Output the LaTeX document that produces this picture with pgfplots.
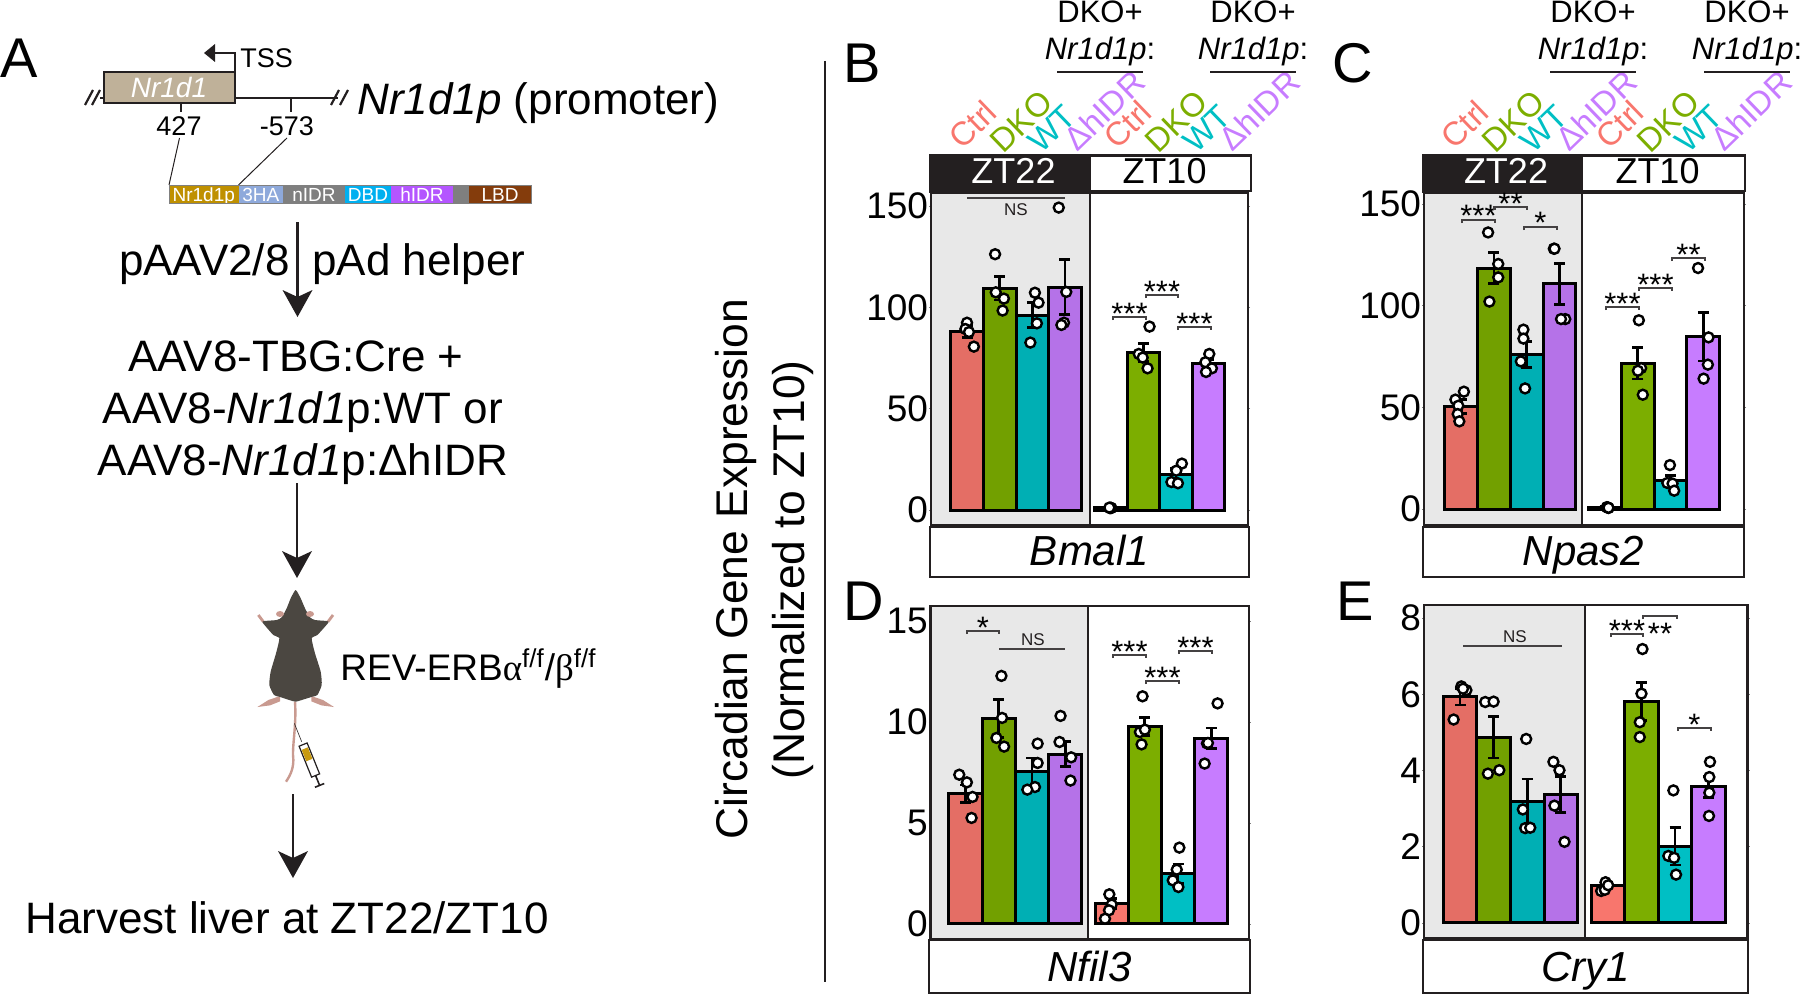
\documentclass[border=0pt]{standalone}
\usepackage{fontspec}
\setmainfont{Liberation Sans}
\newfontfamily\greekfont{Liberation Serif}
\usepackage{pgfplots}
\pgfplotsset{compat=1.18}

% ggplot colours; the ZT22 side sits under a grey wash
\definecolor{ink}{HTML}{231F20}
\definecolor{cCtrl}{HTML}{F8766D}
\definecolor{cDKO}{HTML}{7CAE00}
\definecolor{cWT}{HTML}{00BFC4}
\definecolor{cIDR}{HTML}{C77CFF}
\definecolor{dCtrl}{HTML}{E46E65}
\definecolor{dDKO}{HTML}{72A000}
\definecolor{dWT}{HTML}{00AFB4}
\definecolor{dIDR}{HTML}{B572E8}
\definecolor{wash}{HTML}{E8E8E8}
\definecolor{fur}{HTML}{4B4741}
\definecolor{skin}{HTML}{C99A90}
\definecolor{tan}{HTML}{BFB199}

% 1 px of the reference = 0.5pt, sizes below are px/2
\newcommand{\fsz}[1]{\fontsize{#1}{#1}\selectfont}

\pgfplotsset{panel/.style={
    scale only axis,
    axis on top,
    axis line style={line width=1.4pt,ink},
    xtick=\empty,
    tick align=outside,
    major tick length=1pt,
    tick style={line width=0.3pt,gray},
    tick label style={font=\fsz{18.5}},
    /pgf/number format/assume math mode=true,
    yticklabel style={inner sep=0pt,xshift=-0.3pt},
    clip=true,
}}

\newcommand{\onebar}[4]{\addplot[ybar,bar width=1,bar shift=0pt,fill=#1,draw=black,line width=1.5pt,
    error bars/.cd,y dir=both,y explicit,
    error bar style={line width=1.4pt,black},
    error mark options={rotate=90,mark size=2.75pt,line width=1.4pt,black}]
    coordinates {(#2,#3) +- (0,#4)};}
\newcommand{\washzone}[4]{\addplot[draw=none,fill=wash] coordinates {(#1,#3)(#2,#3)(#2,#4)(#1,#4)} --cycle;
    \addplot[line width=1.4pt,ink] coordinates {(#2,#3)(#2,#4)};}
\tikzset{dots/.style={only marks,mark=*,mark size=2.5pt,mark options={fill=white,draw=black,line width=1.2pt}}}

\newcommand{\bracket}[3]{\draw[line width=0.7pt,ink!85] (#1,#3+3)--(#1,#3)--(#2,#3)--(#2,#3+3);}
\newcommand{\sig}[4]{\bracket{#1}{#2}{#3}\node[anchor=base,inner sep=0pt,font=\fsz{15.5}] at ({(#1+#2)/2},#3+7) {#4};}
\newcommand{\nsline}[5]{\draw[line width=0.7pt,ink!85] (#1,#3)--(#2,#3);\node[inner sep=0pt,font=\fsz{8.5},ink] at (#4,#5) {NS};}
\newcommand{\darrow}[3]{\draw[line width=1.4pt,ink] (#1,#2)--(#1,#3-15);
    \fill[ink] (#1-15,#3-27)--(#1,#3-20)--(#1+15,#3-27)--(#1,#3)--cycle;}

% header over one facet column: x left, x divider, x right
\newcommand{\header}[3]{%
    \fill[ink] (#1,154) rectangle (#2,193);
    \draw[line width=1.4pt,ink,fill=white] (#2,155.5) rectangle (#3,191);
    \node[white,font=\fsz{18},anchor=base,inner sep=0pt] at ({(#1+#2)/2+4},184) {ZT22};
    \node[black,font=\fsz{18},anchor=base,inner sep=0pt] at ({(#2+#3)/2-6},184) {ZT10};}
\newcommand{\dko}[1]{%
    \node[font=\fsz{15.5},anchor=base] at (#1,23) {DKO+};
    \node[font=\fsz{15.5},anchor=base] at (#1,60) {\textit{Nr1d1p}:};
    \draw[line width=1.2pt,ink] (#1-43,72)--(#1+43,72);}
\newcommand{\rotlabels}[1]{%
    \begin{scope}[shift={(#1,0)}]
    \node[rotate=44,anchor=base west,inner sep=0pt,font=\fsz{16.5},cCtrl] at (0,151) {Ctrl};
    \node[rotate=44,anchor=base west,inner sep=0pt,font=\fsz{16.5},cDKO] at (41,155) {DKO};
    \node[rotate=44,anchor=base west,inner sep=0pt,font=\fsz{16.5},cWT] at (79,155) {WT};
    \node[rotate=44,anchor=base west,inner sep=0pt,font=\fsz{16.5},cIDR] at (115,153) {ΔhIDR};
    \end{scope}}
\newcommand{\strip}[5]{%
    \draw[line width=1.4pt,ink,fill=white] (#1,#3) rectangle (#2,#4);
    \node[font=\fsz{21},anchor=base,inner sep=0pt] at ({(#1+#2)/2},#4-11.5) {\textit{#5}};}

\begin{document}
\begin{tikzpicture}[x=0.5pt,y=-0.5pt]
\path[use as bounding box] (0,0) rectangle (1800,995);

%%% panel B
\begin{axis}[panel,at={(465.5pt,-262.5pt)},anchor=south west,width=158.5pt,height=166pt,
    xmin=-0.103,xmax=9.606,ymin=-7.4,ymax=156.4,ytick={0,50,100,150}]
\washzone{-0.103}{4.767}{-7.4}{156.4}
\onebar{dCtrl}{1}{88}{3}
\onebar{dDKO}{2}{109.4}{5.8}
\onebar{dWT}{3}{96.2}{6}
\onebar{dIDR}{4}{110}{13.5}
\onebar{cCtrl}{5.4}{1}{0.3}
\onebar{cDKO}{6.4}{77.8}{4.4}
\onebar{cWT}{7.4}{17.4}{3}
\onebar{cIDR}{8.4}{72.2}{2}
\addplot[dots] coordinates {(1.0,92.4)(0.95,89.3)(1.06,87.8)(1.21,80.6)
    (1.86,126.2)(1.88,107.4)(2.13,104.3)(2.09,98.4)
    (3.08,107.2)(3.19,102.3)(3.14,92.1)(2.94,82.6)
    (3.81,149.2)(4.04,107.6)(3.97,92.4)(3.89,91.3)
    (5.4,1.1)(5.38,0.9)(5.42,1.0)(5.36,1.2)
    (6.59,90.5)(6.26,77)(6.38,75.2)(6.53,69.9)
    (7.58,22.9)(7.41,19.4)(7.26,13.8)(7.46,13.2)
    (8.42,77)(8.3,72.9)(8.5,69.9)(8.32,68.1)};
\end{axis}

%%% panel C
\begin{axis}[panel,at={(712pt,-262.5pt)},anchor=south west,width=160pt,height=166pt,
    xmin=-0.14,xmax=9.645,ymin=-7.87,ymax=155.4,ytick={0,50,100,150}]
\washzone{-0.14}{4.69}{-7.87}{155.4}
\onebar{dCtrl}{1}{50.5}{3.5}
\onebar{dDKO}{2}{118.4}{7.6}
\onebar{dWT}{3}{76}{6.4}
\onebar{dIDR}{4}{110.7}{10.1}
\onebar{cCtrl}{5.4}{0.8}{0.3}
\onebar{cDKO}{6.4}{71.6}{7.7}
\onebar{cWT}{7.4}{13.8}{2.8}
\onebar{cIDR}{8.4}{84.8}{12}
\addplot[dots] coordinates {(1.08,57.7)(0.82,53.8)(0.91,50.8)(0.89,46.7)(0.94,43.1)
    (1.82,136)(2.13,120.5)(2.13,113.9)(1.86,102)
    (2.9,88.2)(2.9,83.8)(2.82,72.6)(2.95,59.3)
    (3.83,128)(3.85,128)(4.18,93.4)(4.05,93.4)
    (5.45,0.9)(5.5,0.5)(5.47,0.8)(5.5,0.6)
    (6.43,92.8)(6.5,69.3)(6.4,68)(6.55,56.2)
    (7.38,21.6)(7.3,12.8)(7.46,12.5)(7.51,9)
    (8.24,118.5)(8.56,84.4)(8.54,71)(8.41,64.1)};
\end{axis}

%%% panel D
\begin{axis}[panel,at={(465.35pt,-469.5pt)},anchor=south west,width=159.15pt,height=166.5pt,
    xmin=-0.05,xmax=9.536,ymin=-0.743,ymax=15.74,ytick={0,5,10,15}]
\washzone{-0.05}{4.687}{-0.743}{15.74}
\onebar{dCtrl}{1}{6.45}{0.43}
\onebar{dDKO}{2}{10.16}{0.94}
\onebar{dWT}{3}{7.54}{0.68}
\onebar{dIDR}{4}{8.4}{0.62}
\onebar{cCtrl}{5.4}{1}{0.25}
\onebar{cDKO}{6.4}{9.79}{0.45}
\onebar{cWT}{7.4}{2.49}{0.48}
\onebar{cIDR}{8.4}{9.19}{0.51}
\addplot[dots] coordinates {(0.81,7.39)(1.04,7.01)(1.21,6.29)(1.18,5.25)
    (2.08,12.28)(2.1,10.2)(1.93,9.21)(2.16,8.78)
    (3.17,8.93)(3.17,7.97)(3.09,6.78)(2.86,6.65)
    (3.86,10.3)(3.83,9.01)(4.18,8.25)(4.16,7.1)
    (5.33,1.47)(5.4,0.96)(5.32,0.68)(5.2,0.26)
    (6.33,11.27)(6.25,9.5)(6.4,9.62)(6.3,8.89)
    (7.44,3.78)(7.36,2.69)(7.24,2.16)(7.41,1.83)
    (8.59,10.92)(8.27,8.94)(8.3,8.96)(8.2,7.94)};
\end{axis}

%%% panel E
\begin{axis}[panel,at={(712pt,-469pt)},anchor=south west,width=161.85pt,height=166.5pt,
    xmin=-0.071,xmax=9.562,ymin=-0.394,ymax=8.346,ytick={0,2,4,6,8}]
\washzone{-0.071}{4.72}{-0.394}{8.346}
\onebar{dCtrl}{1}{5.94}{0.22}
\onebar{dDKO}{2}{4.87}{0.54}
\onebar{dWT}{3}{3.18}{0.6}
\onebar{dIDR}{4}{3.38}{0.47}
\onebar{cCtrl}{5.4}{0.99}{0.05}
\onebar{cDKO}{6.4}{5.82}{0.5}
\onebar{cWT}{7.4}{2.01}{0.49}
\onebar{cIDR}{8.4}{3.57}{0.27}
\addplot[dots] coordinates {(1.04,6.21)(1.19,6.11)(1.09,6.15)(0.81,5.34)
    (1.75,5.8)(2.0,5.81)(2.17,4.01)(1.83,3.92)
    (2.97,4.83)(2.87,2.98)(2.94,2.49)(3.09,2.5)
    (3.78,4.23)(3.96,4.01)(3.81,3.08)(4.11,2.13)
    (5.2,0.84)(5.31,0.87)(5.33,1.07)(5.41,0.99)
    (6.43,7.19)(6.4,6.02)(6.35,5.27)(6.35,4.88)
    (7.35,3.48)(7.2,1.76)(7.37,1.71)(7.43,1.27)
    (8.44,4.23)(8.42,3.83)(8.42,3.42)(8.41,2.81)};
\end{axis}

%%% strips and headings of the facets
\header{929}{1090}{1251}
\header{1422}{1582}{1745}
\strip{930}{1249}{527}{577}{Bmal1}
\strip{1423}{1744}{527}{577}{Npas2}
\strip{929}{1250}{940}{993}{Nfil3}
\strip{1423}{1748}{940}{993}{Cry1}
\rotlabels{962}
\rotlabels{1117}
\rotlabels{1454}
\rotlabels{1609}
\dko{1100}
\dko{1253}
\dko{1593}
\dko{1747}

%%% significance marks
\nsline{967}{1065}{198}{1016}{210}
\sig{1113}{1146}{317}{***}
\sig{1146}{1178}{295}{***}
\sig{1178}{1211}{327}{***}

\sig{1462}{1495}{220}{***}
\sig{1494}{1527}{207}{**}
\sig{1524}{1557}{227}{*}
\sig{1606}{1639}{307}{***}
\sig{1639}{1672}{288}{***}
\sig{1672}{1705}{258}{**}

\sig{967}{999}{631}{*}
\nsline{999}{1065}{649}{1033}{640}
\sig{1113}{1146}{655}{***}
\sig{1146}{1179}{681}{***}
\sig{1179}{1212}{651}{***}

\nsline{1463}{1562}{646}{1515}{637}
\sig{1611}{1643}{634}{***}
\bracket{1643}{1677}{616}
\node[anchor=base,inner sep=0pt,font=\fsz{15.5}] at (1660,644) {**};
\sig{1678}{1711}{728}{*}

%%% divider and shared label
\draw[line width=1.2pt,ink] (825,61)--(825,982);
\node[rotate=90,font=\fsz{22.2},anchor=base] at (747,569) {Circadian Gene Expression};
\node[rotate=90,font=\fsz{22.2},anchor=base] at (804,570) {(Normalized to ZT10)};

%%% panel letters
\foreach \l/\px/\py in {A/0/78,B/843/83,C/1332/83,D/843/620,E/1336/620}
    \node[anchor=base west,inner sep=0pt,font=\fsz{28}] at (\px,\py) {\l};

%%% panel A: construct
\draw[line width=1.4pt,ink] (100,98)--(338,98);
\draw[line width=1.1pt,ink] (85,105)--(93,90) (92,105)--(100,90) (331,105)--(339,90) (340,105)--(348,90);
\draw[line width=1.4pt,ink,fill=tan] (104,72) rectangle (235,103);
\node[white,font=\fsz{14}] at (169,88) {\textit{Nr1d1}};
\draw[line width=1.3pt,ink] (235,72)--(235,53)--(215,53);
\fill[ink] (204,53)--(215,44)--(215,62)--cycle;
\node[anchor=base west,inner sep=0pt,font=\fsz{13.5}] at (240,68) {TSS};
\draw[line width=0.9pt,ink] (181,103)--(181,112) (291,98)--(291,112);
\node[anchor=base,inner sep=0pt,font=\fsz{13.5}] at (179,136) {427};
\node[anchor=base,inner sep=0pt,font=\fsz{13.5}] at (287,136) {-573};
\draw[line width=0.5pt,ink] (179.5,138)--(169,185) (287,138)--(238.5,185);
\node[anchor=base west,inner sep=0pt,font=\fsz{22}] at (357,115) {\textit{Nr1d1p} (promoter)};
\foreach \xa/\xb/\c/\t in {169/238.5/BF9000/Nr1d1p,238.5/283/8EA9DB/3HA,283/345/7F7F7F/nIDR,345/391/00B0F0/DBD,391/453/B455FF/hIDR,453/469/7F7F7F/,469/531/843C0C/LBD}{
    \definecolor{seg}{HTML}{\c}
    \fill[seg] (\xa,185) rectangle (\xb,203);
    \node[white,inner sep=0pt,font=\fsz{9.5},anchor=base] at ({(\xa+\xb)/2},201) {\t};
}
\draw[line width=0.3pt,gray] (169,185) rectangle (531,203);

\darrow{297.5}{222}{317}
\node[anchor=base east,inner sep=0pt,font=\fsz{22}] at (290,275) {pAAV2/8};
\node[anchor=base west,inner sep=0pt,font=\fsz{22}] at (312,275) {pAd helper};

\node[font=\fsz{22},anchor=base,inner sep=0pt] at (296,371) {AAV8-TBG:Cre +};
\node[font=\fsz{22},anchor=base,inner sep=0pt] at (303,423) {AAV8-\textit{Nr1d1}p:WT or};
\node[font=\fsz{22},anchor=base,inner sep=0pt] at (303,475) {AAV8-\textit{Nr1d1}p:ΔhIDR};
\darrow{297}{483}{578}

%%% panel A: the mouse, in 3x crop units around its box
\begin{scope}[shift={(230,560)},x=0.1667pt,y=-0.1667pt]
\draw[skin,line width=1.2pt] (195,425) .. controls (200,500) and (185,560) .. (190,600) .. controls (190,630) and (178,650) .. (168,665);
\fill[skin] (150,408)--(115,420)--(82,441)--(120,436)--(150,424)--cycle;
\fill[skin] (244,408)--(279,420)--(312,441)--(274,436)--(244,424)--cycle;
\draw[skin,line width=1.4pt] (100,185)--(85,165) (294,185)--(309,165);
\fill[fur] plot[smooth cycle,tension=0.35] coordinates {(197,90)(212,115)(225,145)(240,172)(255,180)(290,183)(295,188)(262,225)(245,235)(255,280)(272,335)(275,375)(262,405)(247,410)(215,420)(197,425)(178,420)(148,410)(132,405)(118,375)(122,335)(138,280)(148,235)(130,225)(98,188)(103,183)(140,180)(155,172)(170,145)(182,115)};
\fill[skin] (150,162) ellipse (12 and 9);
\fill[skin] (240,162) ellipse (12 and 9);
\draw[ink,line width=0.3pt] (193,490)--(215,545);
\begin{scope}[shift={(238,600)},rotate=22]
\draw[ink,line width=0.6pt,fill=white] (-13,-50) rectangle (13,50);
\definecolor{gold}{HTML}{C89A10}
\fill[gold] (-10,-37) rectangle (10,0);
\draw[ink,line width=0.8pt] (0,50)--(0,82) (-15,82)--(15,82);
\end{scope}
\end{scope}
\node[anchor=base west,inner sep=0pt,font=\fsz{18.5}] at (340,680) {REV-ERB{\greekfont α}\textsuperscript{f/f}/{\greekfont β}\textsuperscript{f/f}};

\darrow{293}{794}{878}
\node[anchor=base west,inner sep=0pt,font=\fsz{22}] at (25,933) {Harvest liver at ZT22/ZT10};
\end{tikzpicture}
\end{document}
